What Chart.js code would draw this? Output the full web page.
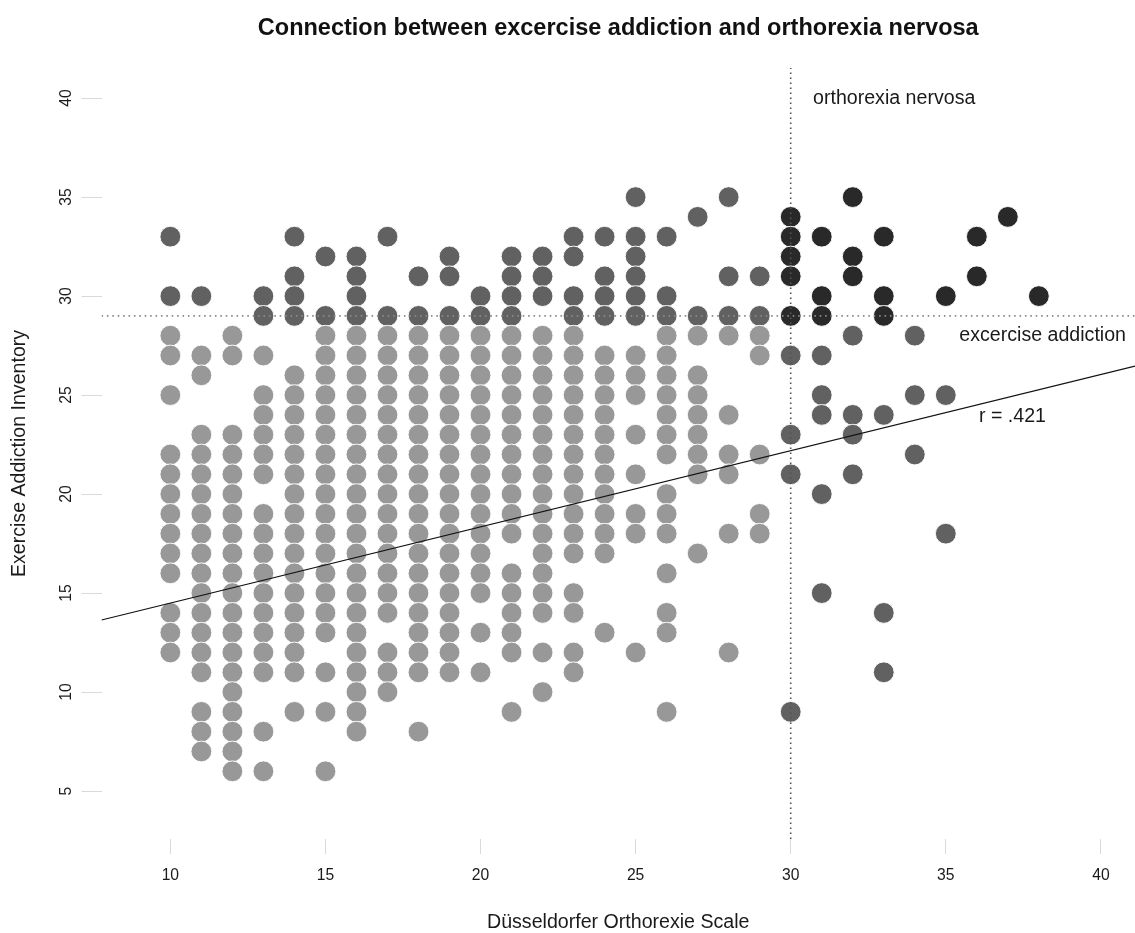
<!DOCTYPE html>
<html>
<head>
<meta charset="utf-8">
<script src="https://cdn.jsdelivr.net/npm/chart.js@4.4.1/dist/chart.umd.min.js"></script>
<style>
  html, body { margin: 0; padding: 0; background: #ffffff; }
  canvas { display: block; }
</style>
</head>
<body>
<canvas id="chart" width="1135" height="933" style="width:1135px;height:933px;"></canvas>
<script>
// ---- data ----
const dosScores = [10, 11, 12, 13, 14, 15, 16, 17, 18, 19, 20, 21, 22, 23, 24, 25, 26, 27, 28, 29, 30, 31, 32, 33, 34, 35, 36, 37, 38];
const eaiScores = [
  [33,30,28,27,25,22,21,20,19,18,17,16,14,13,12],
  [30,27,26,23,22,21,20,19,18,17,16,15,14,13,12,11,9,8,7],
  [28,27,23,22,21,20,19,18,17,16,15,14,13,12,11,10,9,8,7,6],
  [30,29,27,25,24,23,22,21,19,18,17,16,15,14,13,12,11,8,6],
  [33,31,30,29,26,25,24,23,22,21,20,19,18,17,16,15,14,13,12,11,9],
  [32,29,28,27,26,25,24,23,22,21,20,19,18,17,16,15,14,13,11,9,6],
  [32,31,30,29,28,27,26,25,24,23,22,21,20,19,18,17,16,15,14,13,12,11,10,9,8],
  [33,29,28,27,26,25,24,23,22,21,20,19,18,17,16,15,14,12,11,10],
  [31,29,28,27,26,25,24,23,22,21,20,19,18,17,16,15,14,13,12,11,8],
  [32,31,29,28,27,26,25,24,23,22,21,20,19,18,17,16,15,14,13,12,11],
  [30,29,28,27,26,25,24,23,22,21,20,19,18,17,16,15,13,11],
  [32,31,30,29,28,27,26,25,24,23,22,21,20,19,18,16,15,14,13,12,9],
  [32,31,30,28,27,26,25,24,23,22,21,20,19,18,17,16,15,14,12,10],
  [33,32,30,29,28,27,26,25,24,23,22,21,20,19,18,17,15,14,12,11],
  [33,31,30,29,27,26,25,24,23,22,21,20,19,18,17,13],
  [35,33,32,31,30,29,27,26,25,23,21,19,18,12],
  [33,30,29,28,27,26,25,24,23,22,20,19,18,16,14,13,9],
  [34,29,28,26,25,24,23,22,21,17],
  [35,31,29,28,24,22,21,18,12],
  [31,29,28,27,22,19,18],
  [34,33,32,31,29,27,23,21,9],
  [33,30,29,27,25,24,20,15],
  [35,32,31,28,24,23,21],
  [33,30,29,24,14,11],
  [28,25,22],
  [30,25,18],
  [33,31],
  [34],
  [30]
];
const dosCutoff = 30;          // orthorexia nervosa threshold
const eaiCutoff = 29;          // exercise addiction threshold
const regressionX = [7.78, 41.1];
const regressionY = [13.64, 26.46];
const xTicks = [10, 15, 20, 25, 30, 35, 40];
const yTicks = [5, 10, 15, 20, 25, 30, 35, 40];
const xRange = [7.78, 41.1];
const yRange = [2.58, 41.52];
const noteTexts = ['orthorexia nervosa', 'excercise addiction', 'r = .421'];
const noteX = [30.72, 40.81, 36.07];
const noteY = [40, 28.03, 23.9];
const noteAlign = ['left', 'right', 'left'];

// ---- build point groups ----
const lightPts = [], mediumPts = [], darkPts = [];
dosScores.forEach((dos, i) => {
  eaiScores[i].forEach(eai => {
    const p = { x: dos, y: eai };
    const hiX = dos >= dosCutoff, hiY = eai >= eaiCutoff;
    if (hiX && hiY) darkPts.push(p);
    else if (hiX || hiY) mediumPts.push(p);
    else lightPts.push(p);
  });
});

const FONT = "'Liberation Sans', Arial, Helvetica, sans-serif";
Chart.defaults.font.family = FONT;
Chart.defaults.color = '#1a1a1a';

const pointStyleCommon = {
  pointRadius: 10.4,
  pointHoverRadius: 10.4,
  pointBorderWidth: 1,
  pointBorderColor: 'rgba(255,255,255,0.9)',
  showLine: false
};

const notesPlugin = {
  id: 'notes',
  afterDatasetsDraw(chart) {
    const { ctx, scales: { x, y } } = chart;
    ctx.save();
    ctx.font = "19.6px " + FONT;
    ctx.fillStyle = '#1a1a1a';
    ctx.textBaseline = 'middle';
    noteTexts.forEach((t, i) => {
      ctx.textAlign = noteAlign[i];
      ctx.fillText(t, x.getPixelForValue(noteX[i]), y.getPixelForValue(noteY[i]));
    });
    ctx.restore();
  }
};

new Chart(document.getElementById('chart'), {
  type: 'scatter',
  data: {
    datasets: [
      {
        label: 'regression',
        data: regressionX.map((v, i) => ({ x: v, y: regressionY[i] })),
        showLine: true, pointRadius: 0, borderColor: '#111111', borderWidth: 1.2,
        order: 0
      },
      {
        label: 'orthorexia cutoff',
        data: [{ x: dosCutoff, y: yRange[0] }, { x: dosCutoff, y: yRange[1] }],
        showLine: true, pointRadius: 0, borderColor: '#555555', borderWidth: 1.6,
        borderDash: [1.6, 3.4], order: 0
      },
      {
        label: 'addiction cutoff',
        data: [{ x: xRange[0], y: eaiCutoff }, { x: xRange[1], y: eaiCutoff }],
        showLine: true, pointRadius: 0, borderColor: '#8a8a8a', borderWidth: 1.6,
        borderDash: [1.6, 3.8], order: 0
      },
      Object.assign({ label: 'light', data: lightPts, backgroundColor: '#989898', order: 1 }, pointStyleCommon),
      Object.assign({ label: 'medium', data: mediumPts, backgroundColor: '#616161', order: 2 }, pointStyleCommon),
      Object.assign({ label: 'dark', data: darkPts, backgroundColor: '#292929', order: 3 }, pointStyleCommon)
    ]
  },
  options: {
    responsive: false,
    animation: false,
    devicePixelRatio: 1,
    layout: { autoPadding: false, padding: { top: 0, right: 0, bottom: 0, left: 0 } },
    plugins: {
      legend: { display: false },
      tooltip: { enabled: false },
      title: {
        display: true,
        fullSize: false,
        text: 'Connection between excercise addiction and orthorexia nervosa',
        font: { size: 23.5, weight: 'bold', family: FONT },
        color: '#111111',
        padding: { top: 14, bottom: 25.8 }
      }
    },
    scales: {
      x: {
        type: 'linear',
        min: xRange[0], max: xRange[1],
        afterBuildTicks: s => { s.ticks = xTicks.map(v => ({ value: v })); },
        afterFit: s => { s.height = 94; },
        border: { display: false },
        grid: { display: true, drawOnChartArea: false, drawTicks: true, tickLength: 15, tickColor: '#d9d9d9', tickWidth: 1 },
        ticks: { font: { size: 15.7 }, color: '#1a1a1a', padding: 12.6, minRotation: 0, maxRotation: 0, autoSkip: false },
        title: { display: true, text: 'Düsseldorfer Orthorexie Scale', font: { size: 19.6, lineHeight: 1 }, color: '#1a1a1a', padding: { top: 0, bottom: 0.2 } }
      },
      y: {
        type: 'linear',
        min: yRange[0], max: yRange[1],
        afterBuildTicks: s => { s.ticks = yTicks.map(v => ({ value: v })); },
        afterFit: s => { s.width = 101.5; },
        border: { display: false },
        grid: { display: true, drawOnChartArea: false, drawTicks: true, tickLength: 20, tickColor: '#d9d9d9', tickWidth: 1 },
        ticks: { font: { size: 15.7 }, color: '#1a1a1a', padding: 6, minRotation: 90, maxRotation: 90, crossAlign: 'center', autoSkip: false },
        title: { display: true, text: 'Exercise Addiction Inventory', font: { size: 19.6 }, color: '#1a1a1a', padding: { top: 8.2, bottom: 0 } }
      }
    }
  },
  plugins: [notesPlugin]
});
</script>
</body>
</html>
